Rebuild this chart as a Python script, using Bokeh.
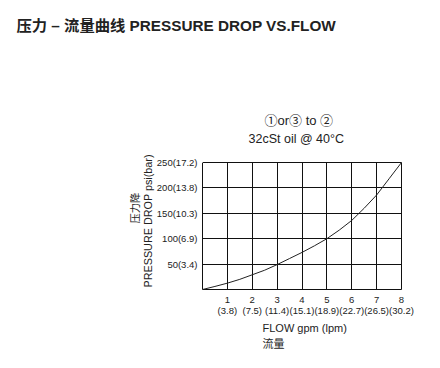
from bokeh.plotting import figure
from bokeh.models import Range1d, FixedTicker, Title, LinearAxis
from bokeh.embed import file_html
from bokeh.resources import INLINE

# data
flow_gpm = [0, 0.5, 1, 1.5, 2, 2.5, 3, 3.5, 4, 4.5, 5, 5.5, 6, 6.5, 7, 7.5, 8]
pressure_psi = [0, 6, 12.5, 20, 29, 38, 49, 61, 73, 86, 100, 117, 136, 160, 186, 218, 250]

x_ticks = [0, 1, 2, 3, 4, 5, 6, 7, 8]
x_tick_lpm = ["", "(3.8)", "(7.5)", "(11.4)", "(15.1)", "(18.9)", "(22.7)", "(26.5)", "(30.2)"]
y_ticks = [0, 50, 100, 150, 200, 250]
y_tick_labels = ["", "50(3.4)", "100(6.9)", "150(10.3)", "200(13.8)", "250(17.2)"]

title_text = "压力 – 流量曲线 PRESSURE DROP VS.FLOW"
note_line1 = "①or③ to ②"
note_line2 = "32cSt oil @ 40°C"
y_title_en = "PRESSURE DROP psi(bar)"
y_title_cn = "压力降"
x_title_en = "FLOW gpm (lpm)"
x_title_cn = "流量"

FONT = "Liberation Sans, Noto Sans CJK SC"

W, H = 424, 352
p = figure(width=W, height=H, output_backend="svg", toolbar_location=None,
           x_range=Range1d(0, 8), y_range=Range1d(0, 250),
           min_border_left=202, min_border_right=23, min_border_top=0,
           min_border_bottom=63)
p.background_fill_color = "white"
p.border_fill_color = "white"
p.outline_line_color = "#111111"
p.outline_line_width = 1

p.line(flow_gpm, pressure_psi, line_color="#222222", line_width=1)

p.xaxis.ticker = FixedTicker(ticks=x_ticks)
p.yaxis.ticker = FixedTicker(ticks=y_ticks)
p.xaxis.major_label_overrides = {
    t: ("" if t == 0 else f"{t}\n{l}") for t, l in zip(x_ticks, x_tick_lpm)
}
p.yaxis.major_label_overrides = {t: l for t, l in zip(y_ticks, y_tick_labels)}
for ax in (p.xaxis, p.yaxis):
    ax.axis_line_color = None
    ax.major_tick_out = 0
    ax.major_tick_in = 0
    ax.minor_tick_line_color = None
    ax.major_label_text_font = FONT
    ax.major_label_text_font_size = "9.5px"
    ax.major_label_text_color = "#222222"
p.xaxis.major_label_standoff = 4
p.xaxis.major_label_text_line_height = 1.05
p.yaxis.major_label_standoff = 5

p.xgrid.ticker = FixedTicker(ticks=x_ticks)
p.ygrid.ticker = FixedTicker(ticks=y_ticks)
p.grid.grid_line_color = "#111111"
p.grid.grid_line_alpha = 1
p.grid.grid_line_width = 1


def ttl(text, side, size, align="left", offset=0, standoff=0, bold=False):
    p.add_layout(Title(text=text, align=align, offset=offset, standoff=standoff,
                       text_font=FONT, text_font_size=size,
                       text_font_style="bold" if bold else "normal",
                       text_color="#222222"), side)


def spacer(size):
    # an unlabelled, invisible axis used only to reserve space in the top panel
    ax = LinearAxis(ticker=FixedTicker(ticks=[0]), major_tick_out=size,
                    major_tick_in=0, axis_line_color=None,
                    major_tick_line_color="white", minor_tick_line_color=None,
                    major_label_standoff=0, major_label_text_font_size="1px",
                    major_label_overrides={0: ""})
    p.add_layout(ax, "above")


# left: axis titles (align left = measured from the bottom of the frame)
ttl(y_title_en, "left", "10.8px", offset=2, standoff=0)
ttl(y_title_cn, "left", "10.3px", offset=66, standoff=-3)
# below: axis titles
ttl(x_title_en, "below", "11px", offset=60, standoff=0)
ttl(x_title_cn, "below", "11px", offset=60, standoff=4)
# above: notes and main title, nearest the frame first
spacer(17)
ttl(note_line2, "above", "12.5px", offset=46, standoff=0)
ttl(note_line1, "above", "13px", offset=62, standoff=4)
spacer(60)
ttl(title_text, "above", "15.3px", offset=-186, standoff=29, bold=True)

open("out.html", "w").write(file_html(p, INLINE))
